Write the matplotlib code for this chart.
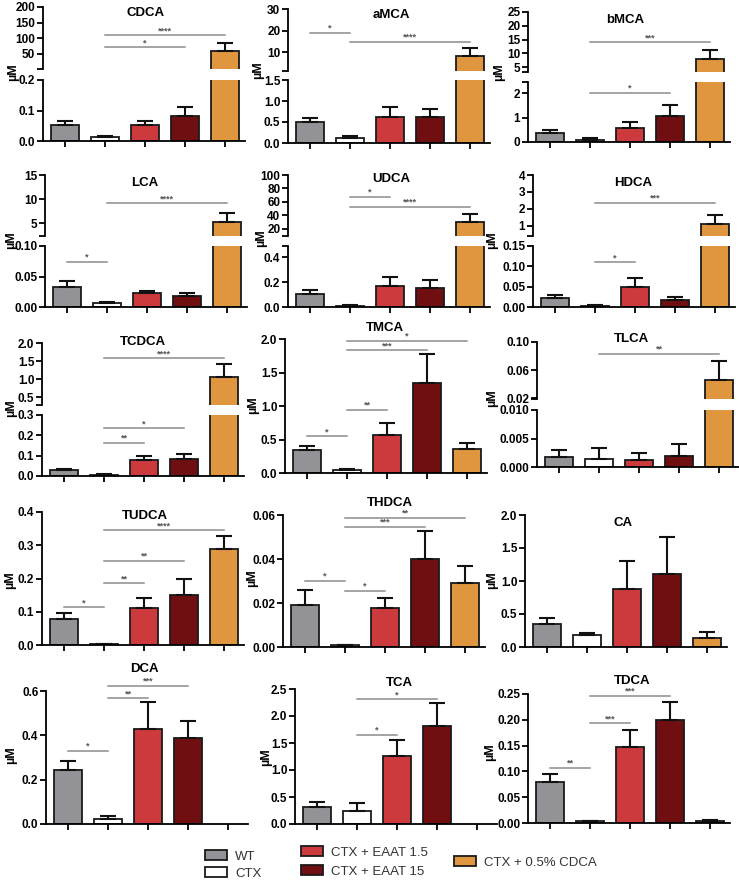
import matplotlib
matplotlib.use('Agg')
import matplotlib.pyplot as plt
from matplotlib.patches import Patch

plt.rcParams['font.family'] = ['Liberation Sans', 'DejaVu Sans']
plt.rcParams['font.weight'] = 'bold'

W, H = 739, 883
nan = float('nan')

groups = ['WT', 'CTX', 'CTX + EAAT 1.5', 'CTX + EAAT 15', 'CTX + 0.5% CDCA']
colors = ['#929297', '#ffffff', '#cd3a3d', '#700f12', '#e0963f']

# mean and SEM per group (uM), same order as groups
cdca = [0.052, 0.012, 0.053, 0.081, 60]
cdca_err = [0.013, 0.005, 0.014, 0.031, 24]
amca = [0.5, 0.12, 0.61, 0.61, 8]
amca_err = [0.09, 0.05, 0.24, 0.19, 3.7]
bmca = [0.37, 0.1, 0.585, 1.07, 7.9]
bmca_err = [0.11, 0.06, 0.25, 0.44, 3.35]
lca = [0.0324, 0.0066, 0.0225, 0.0187, 5.2]
lca_err = [0.0106, 0.0022, 0.0045, 0.0044, 1.85]
udca = [0.108, 0.008, 0.168, 0.149, 30.5]
udca_err = [0.032, 0.006, 0.072, 0.067, 11]
hdca = [0.023, 0.0025, 0.0495, 0.018, 1.1]
hdca_err = [0.007, 0.0025, 0.022, 0.0067, 0.56]
tcdca = [0.0295, 0.0066, 0.079, 0.084, 1.056]
tcdca_err = [0.0065, 0.0035, 0.019, 0.024, 0.37]
tmca = [0.34, 0.05, 0.56, 1.35, 0.365]
tmca_err = [0.065, 0.015, 0.18, 0.43, 0.08]
tlca = [0.0018, 0.00145, 0.00116, 0.0019, 0.0453]
tlca_err = [0.0011, 0.00195, 0.00128, 0.0022, 0.0276]
tudca = [0.078, 0.003, 0.112, 0.15, 0.29]
tudca_err = [0.019, 0.001, 0.03, 0.047, 0.038]
thdca = [0.0191, 0.0007, 0.0179, 0.040, 0.0292]
thdca_err = [0.0067, 0.0003, 0.0046, 0.0129, 0.0074]
ca = [0.354, 0.177, 0.876, 1.10, 0.14]
ca_err = [0.091, 0.033, 0.42, 0.56, 0.09]
dca = [0.242, 0.024, 0.43, 0.39, nan]
dca_err = [0.042, 0.011, 0.12, 0.076, nan]
tca = [0.31, 0.25, 1.26, 1.81, nan]
tca_err = [0.1, 0.13, 0.3, 0.43, nan]
tdca = [0.0787, 0.003, 0.148, 0.199, 0.004]
tdca_err = [0.0153, 0.001, 0.033, 0.036, 0.002]

# significance: (segment, bar a, bar b, level, stars)
cdca_sig = [('up', 1, 4, 110, '****'), ('up', 1, 3, 72, '*')]
amca_sig = [('up', 0, 1, 19, '*'), ('up', 1, 4, 14.7, '****')]
bmca_sig = [('up', 1, 4, 14, '***'), ('low', 1, 3, 2.0, '*')]
lca_sig = [('low', 0, 1, 0.074, '*'), ('up', 1, 4, 9.1, '****')]
udca_sig = [('up', 1, 2, 68, '*'), ('up', 1, 4, 53, '****')]
hdca_sig = [('up', 1, 4, 2.36, '***'), ('low', 1, 2, 0.11, '*')]
tcdca_sig = [('up', 1, 4, 1.58, '****'), ('low', 1, 3, 0.235, '*'), ('low', 1, 2, 0.163, '**')]
tmca_sig = [('low', 0, 1, 0.55, '*'), ('low', 1, 2, 0.94, '**'), ('low', 1, 3, 1.83, '***'), ('low', 1, 4, 1.97, '*')]
tlca_sig = [('up', 1, 4, 0.083, '**')]
tudca_sig = [('low', 0, 1, 0.114, '*'), ('low', 1, 2, 0.185, '**'), ('low', 1, 3, 0.253, '**'), ('low', 1, 4, 0.345, '****')]
thdca_sig = [('low', 0, 1, 0.030, '*'), ('low', 1, 2, 0.0255, '*'), ('low', 1, 3, 0.0547, '***'), ('low', 1, 4, 0.0588, '**')]
ca_sig = []
dca_sig = [('low', 0, 1, 0.33, '*'), ('low', 1, 2, 0.568, '**'), ('low', 1, 3, 0.624, '***')]
tca_sig = [('low', 1, 2, 1.65, '*'), ('low', 1, 3, 2.31, '*')]
tdca_sig = [('low', 0, 1, 0.107, '**'), ('low', 1, 2, 0.193, '***'), ('low', 1, 3, 0.247, '***')]

f0, f1, f2, f3 = '{:.0f}', '{:.1f}', '{:.2f}', '{:.3f}'

# layout in pixels: y-axis x, segments (top, bottom, ymin, ymax, ticks, fmt), title xy, label xy
panels = [
    ('CDCA', cdca, cdca_err, cdca_sig, 43,
     [(7, 69, 2.1, 200, [50, 100, 150, 200], f0), (80, 141, 0, 0.2, [0, 0.1, 0.2], f1)], (146, 13), (13, 72)),
    ('aMCA', amca, amca_err, amca_sig, 288,
     [(9, 71, 1.2, 30, [10, 20, 30], f0), (80, 143, 0, 1.5, [0, 0.5, 1.0, 1.5], f1)], (391, 15), (258, 70)),
    ('bMCA', bmca, bmca_err, bmca_sig, 528,
     [(12, 72, 3.2, 25, [5, 10, 15, 20, 25], f0), (82, 142, 0, 2.45, [0, 1, 2], f0)], (625, 20), (499, 72)),
    ('LCA', lca, lca_err, lca_sig, 45,
     [(175, 236, 2.3, 15, [5, 10, 15], f0), (246, 307, 0, 0.10, [0, 0.05, 0.10], f2)], (145, 183), (11, 240)),
    ('UDCA', udca, udca_err, udca_sig, 288,
     [(175, 236, 9.6, 100, [20, 40, 60, 80, 100], f0), (246, 307, 0, 0.49, [0, 0.2, 0.4], f1)], (391, 179), (261, 238)),
    ('HDCA', hdca, hdca_err, hdca_sig, 533,
     [(175, 236, 0.41, 4, [1, 2, 3, 4], f0), (246, 307, 0, 0.15, [0, 0.05, 0.10, 0.15], f2)], (633, 183), (492, 240)),
    ('TCDCA', tcdca, tcdca_err, tcdca_sig, 42,
     [(343, 405, 0.28, 2.0, [0.5, 1.0, 1.5, 2.0], f1), (415, 476, 0, 0.3, [0, 0.1, 0.2, 0.3], f1)], (143, 342), (11, 408)),
    ('TMCA', tmca, tmca_err, tmca_sig, 285,
     [(339, 473, 0, 2.0, [0, 0.5, 1.0, 1.5, 2.0], f1)], (385, 328), (253, 405)),
    ('TLCA', tlca, tlca_err, tlca_sig, 537,
     [(342, 399, 0.0186, 0.10, [0.02, 0.06, 0.10], f2), (410, 467, 0, 0.010, [0, 0.005, 0.010], f3)], (632, 339), (492, 398)),
    ('TUDCA', tudca, tudca_err, tudca_sig, 42,
     [(512, 645, 0, 0.4, [0, 0.1, 0.2, 0.3, 0.4], f1)], (145, 516), (10, 580)),
    ('THDCA', thdca, thdca_err, thdca_sig, 283,
     [(515, 647, 0, 0.06, [0, 0.02, 0.04, 0.06], f2)], (390, 503), (252, 578)),
    ('CA', ca, ca_err, ca_sig, 525,
     [(515, 647, 0, 2.0, [0, 0.5, 1.0, 1.5, 2.0], f1)], (623, 523), (492, 580)),
    ('DCA', dca, dca_err, dca_sig, 46,
     [(691, 824, 0, 0.6, [0, 0.2, 0.4, 0.6], f1)], (144, 669), (11, 755)),
    ('TCA', tca, tca_err, tca_sig, 295,
     [(689, 824, 0, 2.5, [0, 0.5, 1.0, 1.5, 2.0, 2.5], f1)], (399, 683), (266, 757)),
    ('TDCA', tdca, tdca_err, tdca_sig, 528,
     [(694, 823, 0, 0.25, [0, 0.05, 0.10, 0.15, 0.20, 0.25], f2)], (632, 681), (490, 752)),
]

fig = plt.figure(figsize=(W / 100, H / 100), dpi=100)


def px_axes(left, top, bottom, width=202):
    return fig.add_axes([left / W, 1 - bottom / H, width / W, (bottom - top) / H])


for name, mean, err, sig, x0, segs, tpos, lpos in panels:
    axs = []
    for k, (top, bot, lo, hi, ticks, fmt) in enumerate(segs):
        ax = px_axes(x0, top, bot)
        last = k == len(segs) - 1
        xs = range(5)
        # upper part of a broken axis only carries the bars that reach it
        vals = [m if (last or m > lo) else nan for m in mean]
        ax.bar(xs, vals, width=0.68, color=colors, edgecolor='#1a1a1a', linewidth=1.3)
        ax.errorbar(xs, vals, yerr=[[0] * 5, err], fmt='none', ecolor='#111111',
                    elinewidth=1.5, capsize=6, capthick=1.5)
        ax.set_xlim(-0.55, 4.5)
        ax.set_ylim(lo, hi)
        locs = list(ticks)
        labels = [fmt.format(t) for t in ticks]
        if len(segs) > 1:
            end = lo if k == 0 else hi
            if end not in ticks:
                locs.append(end)
                labels.append('')
        ax.set_yticks(locs, labels)
        ax.spines[['top', 'right']].set_visible(False)
        for s in ax.spines.values():
            s.set_linewidth(1.3)
        if last:
            ax.set_xticks(range(5), [''] * 5)
        else:
            ax.spines['bottom'].set_visible(False)
            ax.set_xticks([])
        ax.tick_params(direction='out', length=4, width=1.3, labelsize=8.5, pad=1.5)
        ax.patch.set_alpha(0)
        axs.append(ax)
    for seg, a, b, y, stars in sig:
        ax = axs[0] if seg == 'up' else axs[-1]
        ax.plot([a, b], [y, y], color='#8c8c8c', lw=1.1, clip_on=False)
        ax.annotate(stars, ((a + b) / 2, y), xytext=(0, 0), textcoords='offset points',
                    ha='center', va='bottom', fontsize=6.5, color='#555555', annotation_clip=False)
    fig.text(tpos[0] / W, 1 - tpos[1] / H, name, ha='center', va='center', fontsize=9.5)
    fig.text(lpos[0] / W, 1 - lpos[1] / H, 'µM', ha='center', va='center', rotation=90, fontsize=9)

handles = [Patch(facecolor=c, edgecolor='#1a1a1a', linewidth=1.3) for c in colors]
for idx, (lx, ly, sp) in zip([[0, 1], [2, 3], [4]], [(205, 850, 0.36), (301, 846, 0.5), (454, 856, 0.4)]):
    fig.legend([handles[i] for i in idx], [groups[i] for i in idx], loc='upper left',
               bbox_to_anchor=(lx / W, 1 - ly / H), frameon=False,
               prop={'weight': 'normal', 'size': 9.5}, labelcolor='#333333',
               handlelength=1.7, handleheight=0.8, handletextpad=0.6,
               labelspacing=sp, borderpad=0, borderaxespad=0)

fig.savefig('out.png', dpi=100)
